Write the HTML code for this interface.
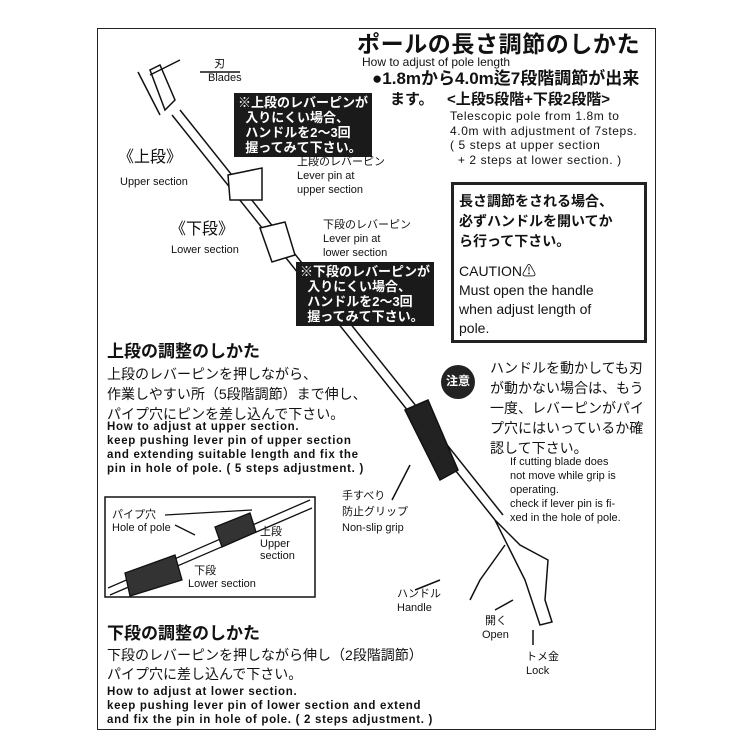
<!DOCTYPE html>
<html><head><meta charset="utf-8"><style>
body{margin:0;background:#fff;}
#c{position:relative;width:750px;height:750px;overflow:hidden;font-family:"Liberation Sans","Noto Sans CJK JP",sans-serif;color:#111;}
.a{position:absolute;white-space:nowrap;line-height:1;}
.b{font-weight:bold;}
.j{font-size:14px;}
.e{font-size:11px;}
.w{font-size:11.5px;letter-spacing:0.7px;font-weight:bold;}
.blk{position:absolute;background:#1a1a1a;color:#fff;font-size:13px;line-height:15px;padding:2px 4px;font-weight:bold;}
</style></head><body><div id="c">
<div style="position:absolute;left:97px;top:28px;width:557px;height:700px;border:1.5px solid #222;"></div>
<svg width="750" height="750" style="position:absolute;left:0;top:0">
<g stroke="#111" stroke-width="1.5" fill="none">
<path d="M150 70 L165 110 L175 100 L160 65 Z" fill="#fff"/>
<path d="M138 72 L160 115"/>
<line x1="172" y1="115" x2="495" y2="520"/>
<line x1="180" y1="110" x2="503" y2="515"/>
<path d="M405 410 L428 400 L458 470 L440 480 Z" fill="#222"/>
<path d="M228 175 L262 168 L262 200 L230 200 Z" fill="#fff"/>
<path d="M260 228 L285 222 L295 255 L272 262 Z" fill="#fff"/>
<path d="M495 520 L520 545 L548 560 L545 600 L552 622 L540 625 L525 580 L510 550 Z" fill="#fff"/>
<path d="M505 545 L480 580 L470 600"/>
<path d="M150 75 L180 60 M200 72 L240 72 M415 590 L440 580 M392 500 L410 465 M513 600 L495 610"/>
<path d="M533 630 L533 645"/>
</g>
<rect x="105" y="497" width="210" height="100" fill="none" stroke="#111" stroke-width="1.5"/>
<g stroke="#111" stroke-width="1.3" fill="none">
<line x1="108" y1="588" x2="310" y2="500"/>
<line x1="110" y1="595" x2="312" y2="508"/>
<path d="M125 573 L175 555 L182 580 L130 596 Z" fill="#333"/>
<path d="M215 527 L250 513 L256 532 L222 547 Z" fill="#333"/>
<line x1="165" y1="515" x2="252" y2="510"/>
<line x1="175" y1="525" x2="195" y2="535"/>
</g>
<circle cx="458" cy="382" r="17" fill="#222"/>
</svg>
<div class="a b" style="left:357px;top:33px;font-size:23px;letter-spacing:0.6px;">ポールの長さ調節のしかた</div>
<div class="a" style="left:362px;top:56px;font-size:12px;">How to adjust of pole length</div>
<div class="a b" style="left:372px;top:70px;font-size:17px;">●1.8mから4.0m迄7段階調節が出来</div>
<div class="a b" style="left:390px;top:92px;font-size:15px;">ます。</div>
<div class="a b" style="left:447px;top:92px;font-size:15px;">&lt;上段5段階+下段2段階&gt;</div>
<div class="a" style="left:450px;top:109px;line-height:14.5px;font-size:12px;letter-spacing:0.6px;">Telescopic pole from 1.8m to<br>4.0m with adjustment of 7steps.<br>( 5 steps at upper section<br>&nbsp;&nbsp;+ 2 steps at lower section. )</div>
<div style="position:absolute;left:451px;top:182px;width:190px;height:155px;border:3px solid #222;"></div>
<div class="a b" style="left:459px;top:191px;font-size:14px;line-height:20px;">長さ調節をされる場合、<br>必ずハンドルを開いてか<br>ら行って下さい。</div>
<div class="a" style="left:459px;top:262px;font-size:14px;line-height:19px;">CAUTION⚠<br>Must open the handle<br>when adjust length of<br>pole.</div>
<div class="blk" style="left:234px;top:93px;">※上段のレバーピンが<br>&nbsp;&nbsp;入りにくい場合、<br>&nbsp;&nbsp;ハンドルを2〜3回<br>&nbsp;&nbsp;握ってみて下さい。</div>
<div class="blk" style="left:296px;top:262px;">※下段のレバーピンが<br>&nbsp;&nbsp;入りにくい場合、<br>&nbsp;&nbsp;ハンドルを2〜3回<br>&nbsp;&nbsp;握ってみて下さい。</div>
<div class="a" style="left:208px;top:57px;font-size:11px;line-height:14px;">&nbsp;&nbsp;刃<br>Blades</div>
<div class="a" style="left:118px;top:150px;font-size:16px;">《上段》</div>
<div class="a e" style="left:120px;top:177px;">Upper section</div>
<div class="a e" style="left:297px;top:155px;line-height:14px;">上段のレバーピン<br>Lever pin at<br>upper section</div>
<div class="a" style="left:170px;top:222px;font-size:16px;">《下段》</div>
<div class="a e" style="left:171px;top:245px;">Lower section</div>
<div class="a e" style="left:323px;top:218px;line-height:14px;">下段のレバーピン<br>Lever pin at<br>lower section</div>
<div class="a b" style="left:107px;top:343px;font-size:17px;">上段の調整のしかた</div>
<div class="a j" style="left:107px;top:364px;line-height:20px;">上段のレバーピンを押しながら、<br>作業しやすい所（5段階調節）まで伸し、<br>パイプ穴にピンを差し込んで下さい。</div>
<div class="a w" style="left:107px;top:420px;line-height:14px;">How to adjust at upper section.<br>keep pushing lever pin of upper section<br>and extending suitable length and fix the<br>pin in hole of pole. ( 5 steps adjustment. )</div>
<div class="a e" style="left:112px;top:509px;line-height:13px;">パイプ穴<br>Hole of pole</div>
<div class="a e" style="left:260px;top:526px;line-height:12px;">上段<br>Upper<br>section</div>
<div class="a e" style="left:188px;top:565px;line-height:13px;">&nbsp;&nbsp;下段<br>Lower section</div>
<div class="a b" style="left:107px;top:625px;font-size:17px;">下段の調整のしかた</div>
<div class="a j" style="left:107px;top:646px;line-height:19px;">下段のレバーピンを押しながら伸し（2段階調節）<br>パイプ穴に差し込んで下さい。</div>
<div class="a w" style="left:107px;top:685px;line-height:14px;">How to adjust at lower section.<br>keep pushing lever pin of lower section and extend<br>and fix the pin in hole of pole. ( 2 steps adjustment. )</div>
<div class="a b" style="left:446px;top:375px;font-size:12px;color:#fff;">注意</div>
<div class="a j" style="left:490px;top:358px;line-height:20px;">ハンドルを動かしても刃<br>が動かない場合は、もう<br>一度、レバーピンがパイ<br>プ穴にはいっているか確<br>認して下さい。</div>
<div class="a e" style="left:510px;top:455px;line-height:14px;">If cutting blade does<br>not move while grip is<br>operating.<br>check if lever pin is fi-<br>xed in the hole of pole.</div>
<div class="a e" style="left:342px;top:488px;line-height:16px;">手すべり<br>防止グリップ<br>Non-slip grip</div>
<div class="a e" style="left:397px;top:587px;line-height:14px;">ハンドル<br>Handle</div>
<div class="a e" style="left:482px;top:614px;line-height:14px;">&nbsp;開く<br>Open</div>
<div class="a e" style="left:526px;top:650px;line-height:14px;">トメ金<br>Lock</div>
</div></body></html>
